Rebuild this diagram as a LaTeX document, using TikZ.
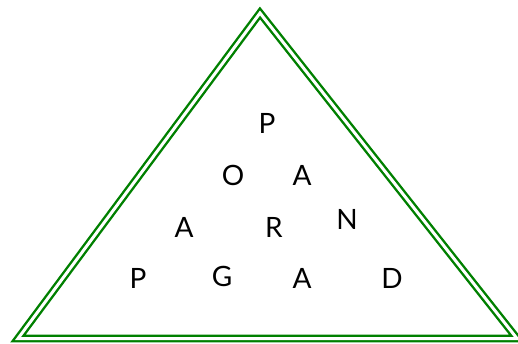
\documentclass[tikz,border=0pt]{standalone}
\usepackage{fontspec}
\setmainfont{Lato}
\begin{document}
\begin{tikzpicture}[x=1pt,y=-1pt,
  tri/.style={draw=green!50!black, double=white, line width=2.4pt, double distance=3pt, line join=miter},
  letter/.style={font=\fontsize{28}{28}\selectfont, inner sep=0pt, anchor=center}]
\useasboundingbox (0,0) rectangle (518,344);
\coordinate (apex) at (260,13);
\coordinate (bl) at (18,338.5);
\coordinate (br) at (517,338.5);
\draw[tri] (apex) -- (bl) -- (br) -- cycle;
\node[letter] (p1) at (267,123) {P};
\node[letter] (o1) at (233,175) {O};
\node[letter] (a1) at (302,175) {A};
\node[letter] (n1) at (347,219) {N};
\node[letter] (a2) at (184,227) {A};
\node[letter] (r1) at (274,227) {R};
\node[letter] (p2) at (138,278) {P};
\node[letter] (g1) at (222,276) {G};
\node[letter] (a3) at (302,278) {A};
\node[letter] (d1) at (392,278) {D};
\end{tikzpicture}
\end{document}
